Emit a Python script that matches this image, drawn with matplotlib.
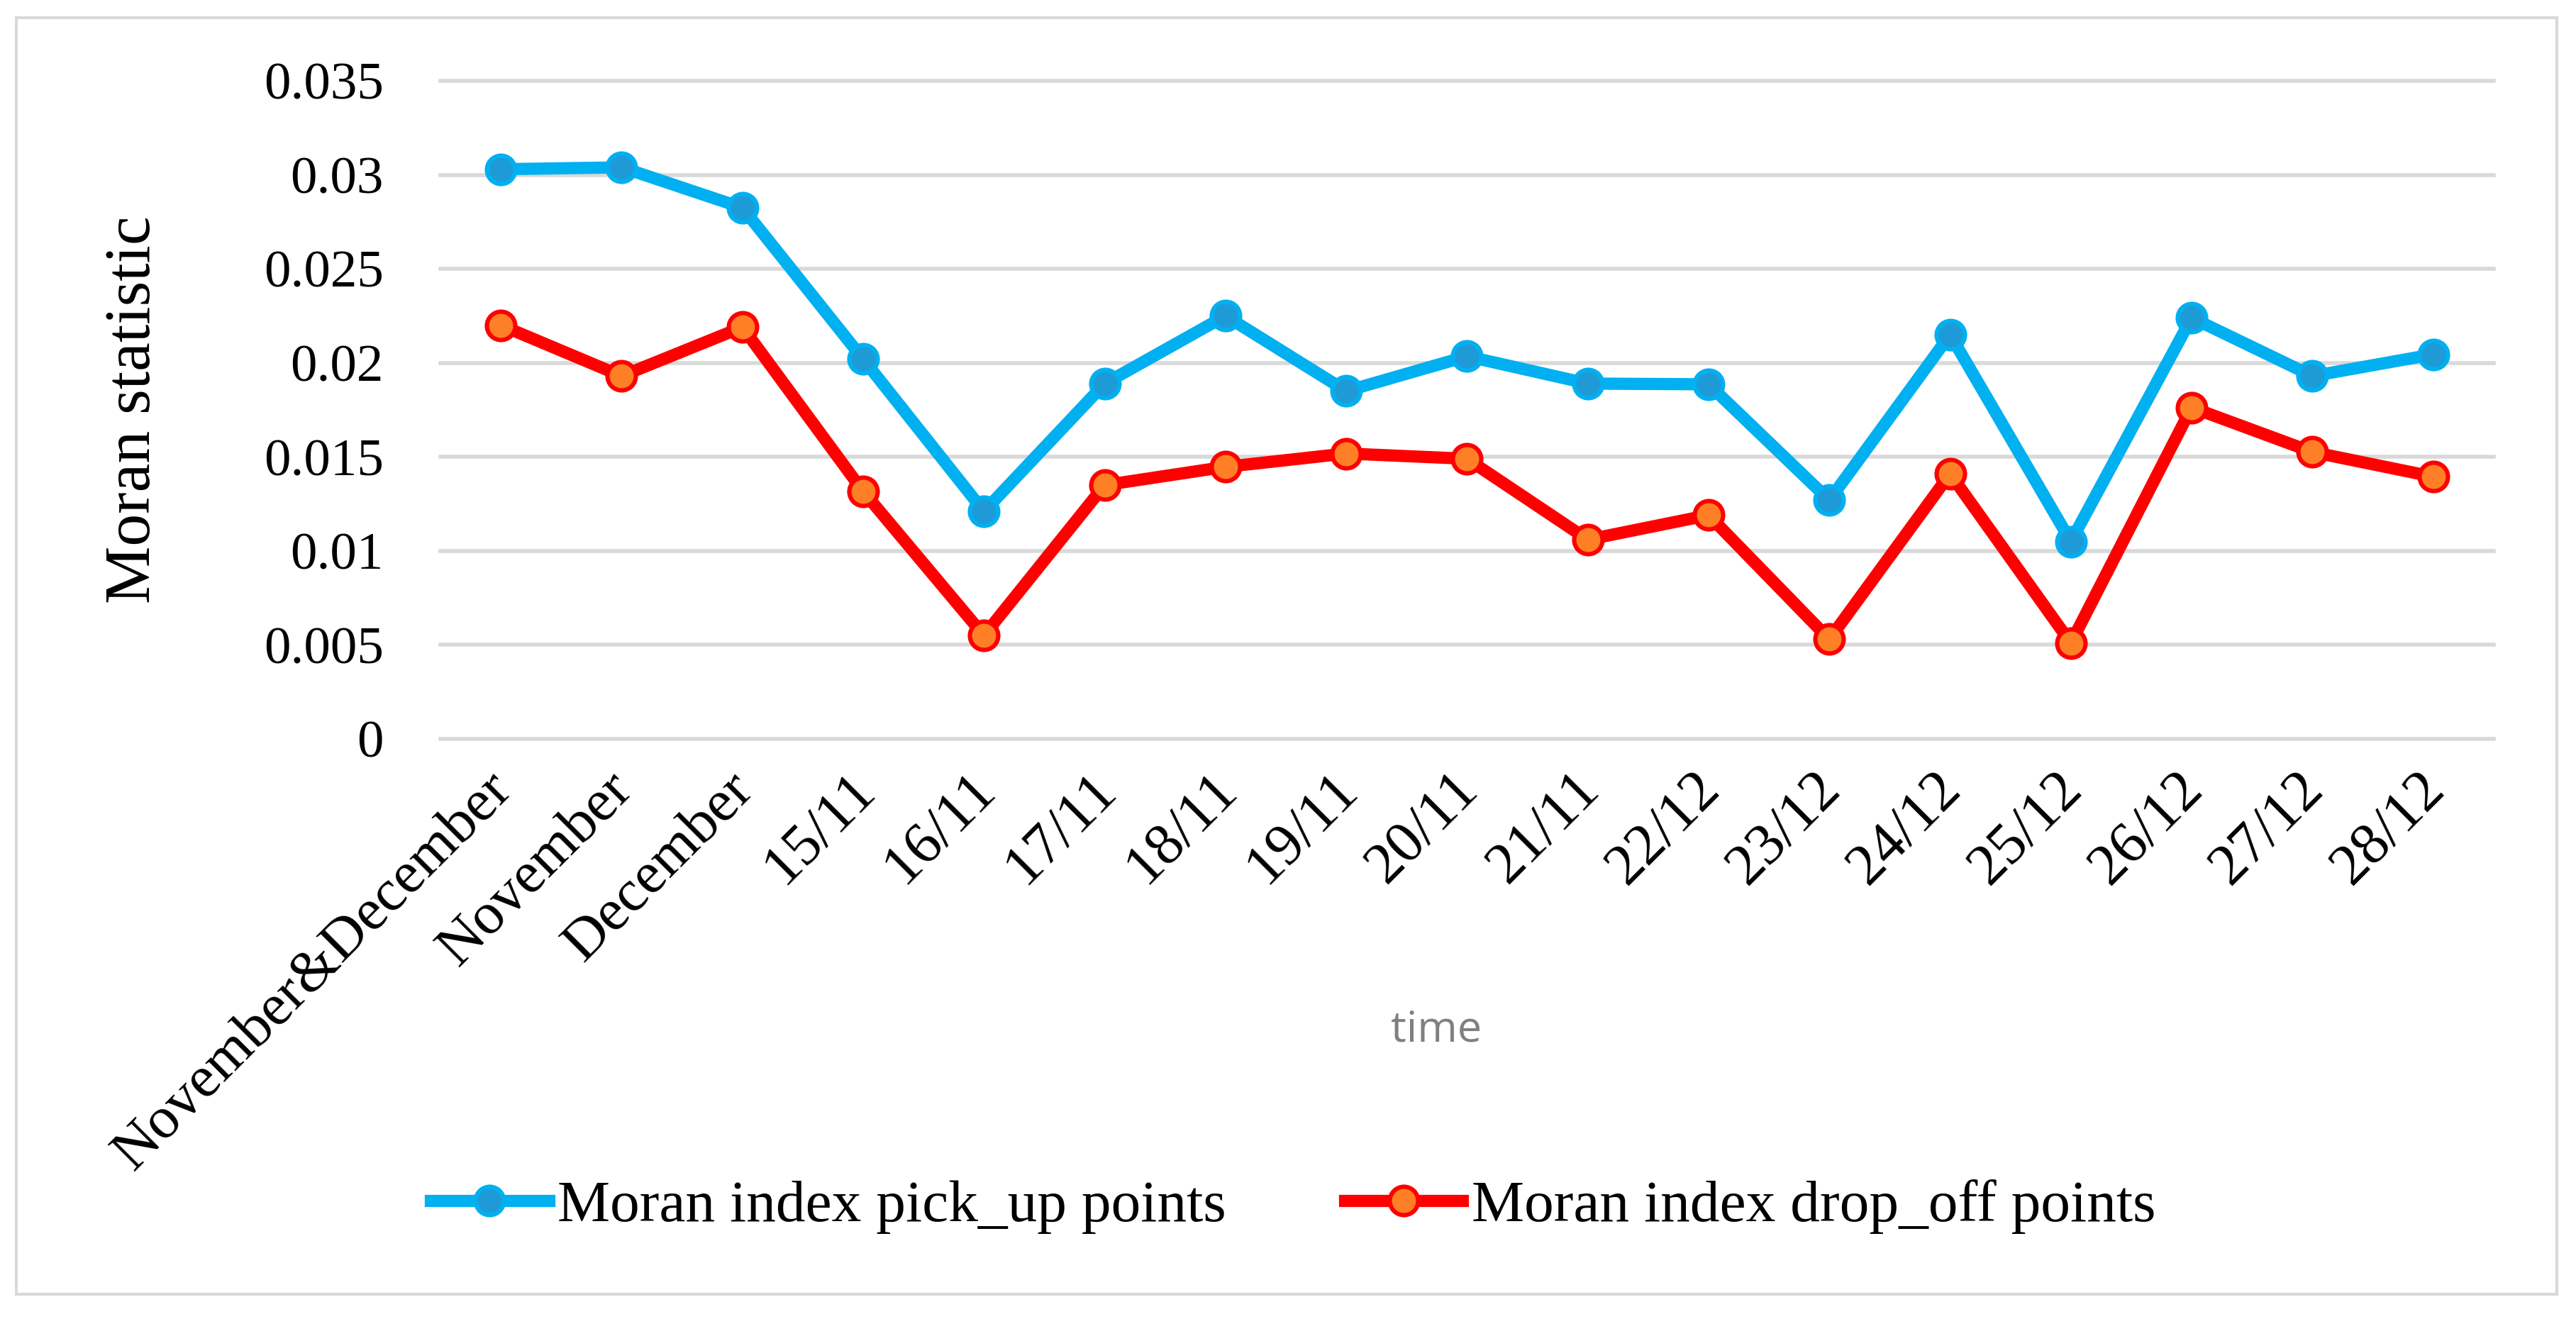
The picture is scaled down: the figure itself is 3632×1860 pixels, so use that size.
import matplotlib
matplotlib.use("Agg")
import matplotlib.pyplot as plt
from matplotlib.patches import Rectangle
from matplotlib.transforms import ScaledTranslation

categories = ["November&December", "November", "December", "15/11", "16/11", "17/11",
              "18/11", "19/11", "20/11", "21/11", "22/12", "23/12", "24/12", "25/12",
              "26/12", "27/12", "28/12"]
pick_up = [0.0303, 0.0304, 0.02825, 0.0202, 0.0121, 0.0189, 0.02250, 0.0185, 0.02035,
           0.0189, 0.01886, 0.0127, 0.0215, 0.0105, 0.02240, 0.0193, 0.02045]
drop_off = [0.0220, 0.0193, 0.0219, 0.01316, 0.0055, 0.0135, 0.01447, 0.01518, 0.0149,
            0.0106, 0.0119, 0.00530, 0.0141, 0.0051, 0.01763, 0.01526, 0.01395]
y_ticks = [0, 0.005, 0.01, 0.015, 0.02, 0.025, 0.03, 0.035]
y_tick_labels = ["0", "0.005", "0.01", "0.015", "0.02", "0.025", "0.03", "0.035"]
series_names = ["Moran index pick_up points", "Moran index drop_off points"]

SERIF = ["Liberation Serif", "DejaVu Serif"]

fig = plt.figure(figsize=(18.16, 9.30), dpi=200)
ax = fig.add_axes([0.171, 0.4398, 0.797, 0.4989])

x = list(range(len(categories)))
for yv in y_ticks:
    ax.axhline(yv, color="#D9D9D9", lw=2.0, zorder=0, clip_on=False)

l1, = ax.plot(x, pick_up, color="#00B0F0", lw=6.2, marker="o", markersize=14.4,
              markerfacecolor="#1E9BD7", markeredgecolor="#00B0F0", markeredgewidth=2.2,
              label=series_names[0], zorder=3, clip_on=False)
l2, = ax.plot(x, drop_off, color="#FF0000", lw=6.2, marker="o", markersize=14.4,
              markerfacecolor="#FF7F27", markeredgecolor="#FF0000", markeredgewidth=2.2,
              label=series_names[1], zorder=3, clip_on=False)

ax.set_xlim(-0.5, len(categories) - 0.5)
ax.set_ylim(0, 0.035)
ax.set_yticks(y_ticks)
ax.set_yticklabels(y_tick_labels, fontfamily=SERIF, fontsize=27)
ax.set_xticks(x)
ax.set_xticklabels(categories, fontfamily=SERIF, fontsize=30, rotation=45,
                   ha="right", va="top", rotation_mode="anchor")
ax.tick_params(axis="y", length=0, pad=29)
ax.tick_params(axis="x", length=0, pad=12)
shift = ScaledTranslation(-8 / 72, 0, fig.dpi_scale_trans)
for lab in ax.get_xticklabels():
    lab.set_transform(lab.get_transform() + shift)
for s in ax.spines.values():
    s.set_visible(False)

ax.set_ylabel("Moran statistic", fontfamily=SERIF, fontsize=33, labelpad=0)
ax.yaxis.set_label_coords(-0.135, 0.5)

fig.text(2025 / 3632, 1 - 1452 / 1860, "time", fontfamily=["Open Sans", "DejaVu Sans"],
         fontsize=22, color="#808080", ha="center", va="center")

fig.legend(handles=[l1, l2], loc="center", bbox_to_anchor=(0.502, 0.085), ncol=2,
           frameon=False, prop={"family": SERIF, "size": 30}, handlelength=2.0,
           handletextpad=0.15, columnspacing=2.0)

fig.patches.append(Rectangle((23 / 3632, 1 - 1825 / 1860), (3605 - 23) / 3632, (1825 - 25) / 1860,
                             transform=fig.transFigure, fill=False, edgecolor="#D9D9D9", lw=1.5))

fig.savefig("out.png", dpi=200, facecolor="white")
